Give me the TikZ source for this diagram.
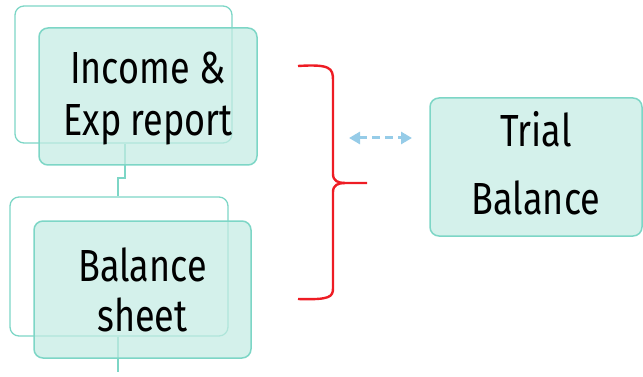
\documentclass[tikz,border=0pt]{standalone}
\usepackage{fontspec}
\setmainfont{Fira Sans}[FakeStretch=0.8]
\usetikzlibrary{arrows.meta}
\definecolor{tealline}{RGB}{125,214,198}
\definecolor{mintfill}{RGB}{196,236,227}
\definecolor{bracered}{RGB}{238,28,36}
\definecolor{arrowblue}{RGB}{150,204,232}
\tikzset{
  outlinebox/.style={draw=tealline, line width=1.3pt, rounded corners=9pt, inner sep=0pt},
  filledbox/.style={draw=tealline, line width=1.5pt, rounded corners=9pt, fill=mintfill, fill opacity=0.72, inner sep=0pt},
  boxtext/.style={inner sep=0pt, align=center, text=black},
  linkline/.style={draw=tealline, line width=1.4pt},
  bracestyle/.style={draw=bracered, line width=2.4pt},
  dasharrow/.style={draw=arrowblue, line width=3pt, dash pattern=on 8pt off 5pt, {Triangle[length=11pt,width=12pt]}-{Triangle[length=11pt,width=12pt]}},
}
\begin{document}
\begin{tikzpicture}[x=1pt,y=-1pt]
\useasboundingbox (0,0) rectangle (643,377);
% outline boxes
\node[outlinebox, minimum width=217pt, minimum height=137pt] (o1) at (123.5,74.5) {};
\node[outlinebox, minimum width=218pt, minimum height=139pt] (o2) at (119,266.5) {};
% connector lines
\coordinate (j1) at (125,178);
\coordinate (j2) at (118,178);
\coordinate (bend) at (118,372);
\draw[linkline] (o1.south -| j1) -- (j1) -- (j2) -- (o2.north -| j2);
\draw[linkline] (o2.south -| bend) -- (bend);
% filled boxes
\node[filledbox, minimum width=218pt, minimum height=137pt] (f1) at (148,96.5) {};
\node[filledbox, minimum width=217pt, minimum height=137pt] (f2) at (142.5,289.5) {};
\node[filledbox, minimum width=212pt, minimum height=138pt] (tb) at (536,167) {};
\node[boxtext, font=\fontsize{45}{52}\selectfont] (f1t) at (148,98.5) {Income \&\\Exp report};
\node[boxtext, font=\fontsize{45}{50}\selectfont] (f2t) at (142.5,289.5) {Balance\\sheet};
\node[boxtext, font=\fontsize{45}{68}\selectfont] (tbt) at (536,163) {Trial\\Balance};
% brace
\coordinate (btop) at (298,66);
\coordinate (btip) at (367,183);
\coordinate (bbot) at (298,299);
\draw[bracestyle] (btop) .. controls (330,64) and (333,68) .. (333,80) -- (333,174) .. controls (333,181) and (338,183) .. (345,183) -- (btip);
\draw[bracestyle] (345,183) .. controls (338,183) and (333,185) .. (333,192) -- (333,288) .. controls (333,297) and (330,300) .. (bbot);
% dashed arrow
\coordinate (al) at (349,138);
\coordinate (ar) at (412,138);
\draw[dasharrow] (al) -- (ar);
\end{tikzpicture}
\end{document}
